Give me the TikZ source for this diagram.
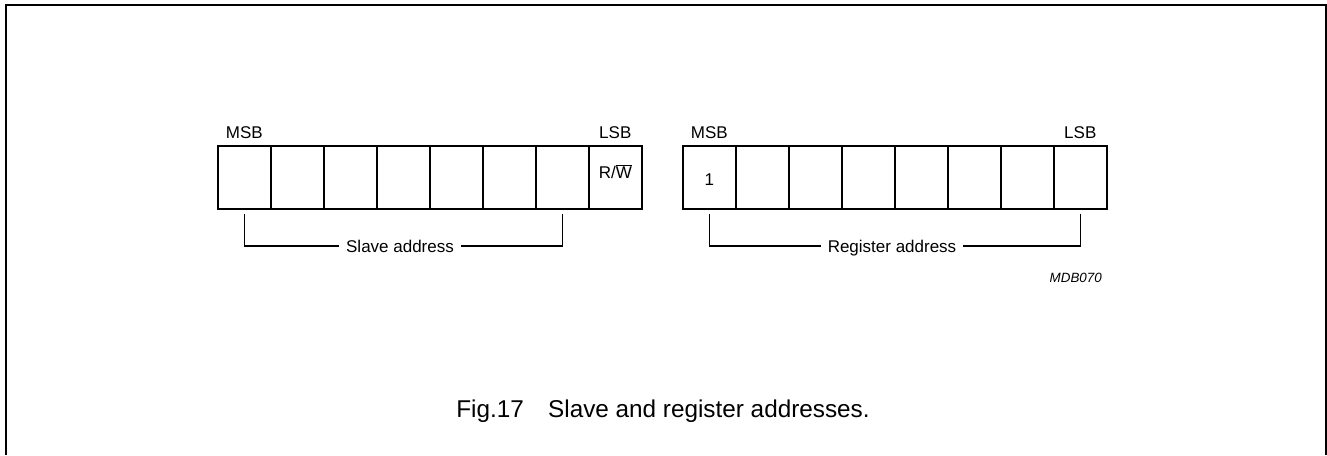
\documentclass[tikz,border=0pt]{standalone}
\usepackage{fontspec}
\setmainfont{Liberation Sans}
\usetikzlibrary{positioning}
\tikzset{
  cell/.style={draw,line width=1.6pt,minimum width=53pt,minimum height=63pt,inner sep=0pt,anchor=north west},
  tag/.style={font=\fontsize{17}{20}\selectfont,inner sep=0pt},
  span/.style={tag,inner xsep=7pt,text height=12pt,text depth=0pt},
  brace/.style={line width=1.2pt},
}
\begin{document}
\begin{tikzpicture}[x=1pt,y=-1pt]
    \useasboundingbox (0,0) rectangle (1327,455);
    \draw[line width=2pt](5.5,455)--(5.5,4.5)--(1325.5,4.5)--(1325.5,455);
    % the two bytes
    \foreach \i in {1,...,8}{
        \node[cell](s\i)at({217+53*(\i-1)},145){};
        \node[cell](r\i)at({682+53*(\i-1)},145){};
    }
    \node[tag,anchor=base](msbS)at([yshift=7pt]s1.north){MSB};
    \node[tag,anchor=base](lsbS)at([yshift=7pt]s8.north){LSB};
    \node[tag,anchor=base](msbR)at([yshift=7pt]r1.north){MSB};
    \node[tag,anchor=base](lsbR)at([yshift=7pt]r8.north){LSB};
    \node[tag,anchor=base](rw)at([yshift=-1pt]s8.center){R/$\overline{\hbox{W}}$};
    \node[tag,anchor=base](one)at([yshift=-8pt]r1.center){1};
    % brackets
    \node[span](slave)at(400,246){Slave address};
    \draw[brace]([yshift=-4pt]s1.south)|-(slave.west);
    \draw[brace]([yshift=-4pt]s7.south)|-(slave.east);
    \node[span](reg)at(892,246){Register address};
    \draw[brace]([yshift=-4pt]r1.south)|-(reg.west);
    \draw[brace]([yshift=-4pt]r8.south)|-(reg.east);
    \node[tag,font=\fontsize{13.4}{16}\selectfont\itshape,anchor=base east](code)at(1102,282){MDB070};
    \node[tag,font=\fontsize{24.3}{28}\selectfont,anchor=base](cap)at(663,417){Fig.17\quad Slave and register addresses.};
\end{tikzpicture}
\end{document}
